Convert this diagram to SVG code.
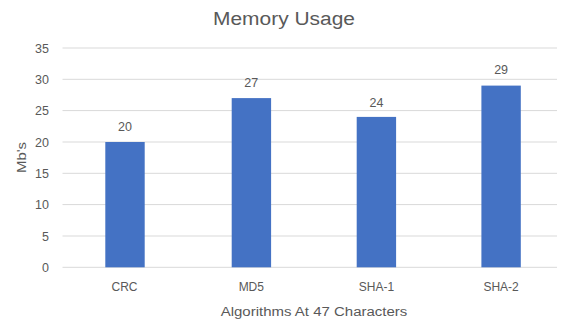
<svg xmlns="http://www.w3.org/2000/svg" width="561" height="324" viewBox="0 0 561 324">
<style>
text{font-family:"Liberation Sans",Arial,sans-serif;fill:#595959}
.grid line{stroke:#d9d9d9;stroke-width:1}
.bar{fill:#4472c4}
.ytick{font-size:12.5px;text-anchor:end}
.val{font-size:12.5px;text-anchor:middle}
.cat{font-size:12px;text-anchor:middle}
</style>
<rect width="561" height="324" fill="#ffffff"/>
<text id="title" x="284" y="25" font-size="18" text-anchor="middle" textLength="142" lengthAdjust="spacingAndGlyphs">Memory Usage</text>
<g class="grid" id="gridlines">
<line x1="62.5" y1="48" x2="557" y2="48"/>
<line x1="62.5" y1="79.3" x2="557" y2="79.3"/>
<line x1="62.5" y1="110.6" x2="557" y2="110.6"/>
<line x1="62.5" y1="142" x2="557" y2="142"/>
<line x1="62.5" y1="173.3" x2="557" y2="173.3"/>
<line x1="62.5" y1="204.6" x2="557" y2="204.6"/>
<line x1="62.5" y1="236" x2="557" y2="236"/>
<line x1="62.5" y1="267.3" x2="557" y2="267.3"/>
</g>
<g id="yticks">
<text class="ytick" x="49" y="52.5">35</text>
<text class="ytick" x="49" y="83.8">30</text>
<text class="ytick" x="49" y="115.1">25</text>
<text class="ytick" x="49" y="146.5">20</text>
<text class="ytick" x="49" y="177.8">15</text>
<text class="ytick" x="49" y="209.1">10</text>
<text class="ytick" x="49" y="240.5">5</text>
<text class="ytick" x="49" y="271.8">0</text>
</g>
<g id="bar-crc">
<rect class="bar" x="105.3" y="142" width="39.4" height="125.3"/>
<text class="val" x="125" y="130.7">20</text>
<text class="cat" x="124.5" y="290.7">CRC</text>
</g>
<g id="bar-md5">
<rect class="bar" x="231.7" y="98.1" width="39.4" height="169.2"/>
<text class="val" x="251.3" y="86.7">27</text>
<text class="cat" x="251.3" y="290.7">MD5</text>
</g>
<g id="bar-sha1">
<rect class="bar" x="356.7" y="116.9" width="39.4" height="150.4"/>
<text class="val" x="376.4" y="106.5">24</text>
<text class="cat" x="376.4" y="290.7">SHA-1</text>
</g>
<g id="bar-sha2">
<rect class="bar" x="481.4" y="85.6" width="39.4" height="181.7"/>
<text class="val" x="501.1" y="74.2">29</text>
<text class="cat" x="501.1" y="290.7">SHA-2</text>
</g>
<text id="x-title" x="314" y="315.7" font-size="12.5" text-anchor="middle" textLength="186.7" lengthAdjust="spacingAndGlyphs">Algorithms At 47 Characters</text>
<text id="y-title" transform="translate(26,157.5) rotate(-90)" font-size="13.5" text-anchor="middle" textLength="31" lengthAdjust="spacingAndGlyphs">Mb's</text>
</svg>
